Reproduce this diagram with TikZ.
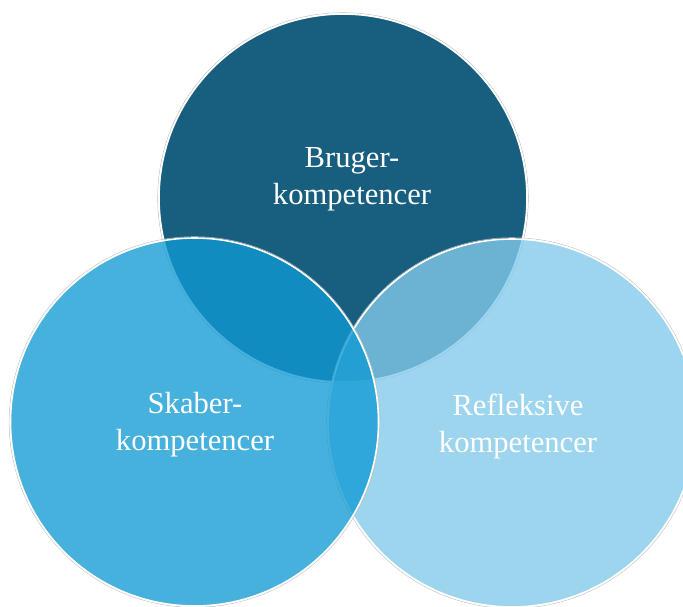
\documentclass[tikz,border=0pt]{standalone}
\usepackage{fontspec}
\setmainfont{Liberation Serif}
\definecolor{topc}{HTML}{175E7F}
\definecolor{rightc}{RGB}{131,202,234}
\definecolor{leftc}{RGB}{15,154,212}
\tikzset{
  ring/.style={draw=white, line width=1.6pt},
  halo/.style={draw=black!25, line width=0.5pt},
  lbl/.style={text=white, align=center, anchor=base, inner sep=0pt,
              font=\fontsize{30.6}{37}\selectfont}
}
\begin{document}
\begin{tikzpicture}[x=1pt,y=-1pt]
\useasboundingbox (0,0) rectangle (683,606);
\coordinate (ct) at (343,198);
\coordinate (cr) at (512,423);
\coordinate (cl) at (194.5,422);
% top circle
\draw[halo] (ct) circle[radius=185.3pt];
\fill[topc] (ct) circle[radius=184pt];
\draw[ring] (ct) circle[radius=184pt];
% right circle
\draw[halo] (cr) circle[radius=185.3pt];
\fill[rightc, fill opacity=0.79] (cr) circle[radius=184pt];
\draw[ring] (cr) circle[radius=184pt];
% left circle
\draw[halo] (cl) circle[radius=185.3pt];
\fill[leftc, fill opacity=0.77] (cl) circle[radius=184pt];
\draw[ring] (cl) circle[radius=184pt];
% labels (base anchor = last line's baseline)
\node[lbl] (tb) at (352,204) {Bruger-\\kompetencer};
\node[lbl] (lb) at (195,450) {Skaber-\\kompetencer};
\node[lbl] (rb) at (518,452) {Refleksive\\kompetencer};
\end{tikzpicture}
\end{document}
